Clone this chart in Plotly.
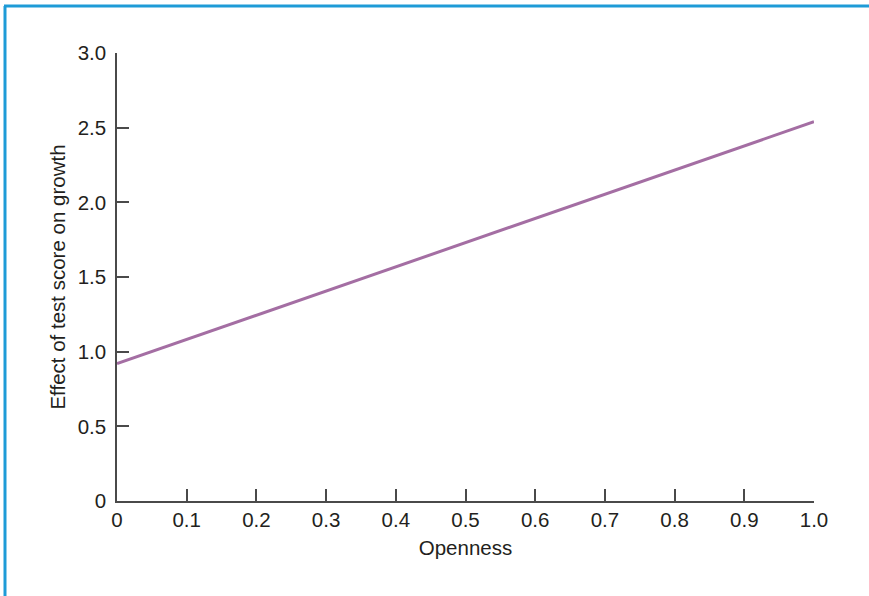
import plotly.graph_objects as go

openness = [0.0, 1.0]
effect = [0.92, 2.54]

x_tickvals = [0, 0.1, 0.2, 0.3, 0.4, 0.5, 0.6, 0.7, 0.8, 0.9, 1.0]
x_ticktext = ["0", "0.1", "0.2", "0.3", "0.4", "0.5", "0.6", "0.7", "0.8", "0.9", "1.0"]
y_tickvals = [0, 0.5, 1.0, 1.5, 2.0, 2.5, 3.0]
y_ticktext = ["0", "0.5", "1.0", "1.5", "2.0", "2.5", "3.0"]

W, H = 869, 596
L, R, T, B = 117, 55, 53, 95
pw, ph = W - L - R, H - T - B

fig = go.Figure()
fig.add_trace(go.Scatter(x=openness, y=effect, mode="lines",
                         line=dict(color="#a46ea3", width=3), showlegend=False,
                         cliponaxis=False))

FONT = "Liberation Sans, Arial, sans-serif"
axis_common = dict(showline=True, linecolor="#4a4a4a", linewidth=1.5,
                   ticks="inside", ticklen=12, tickwidth=1.5, tickcolor="#4a4a4a",
                   showgrid=False, zeroline=False,
                   tickfont=dict(family=FONT, size=20.5, color="#231f20"),
                   title_font=dict(family=FONT, size=20.5, color="#231f20"))

fig.update_xaxes(range=[0, 1], tickmode="array", tickvals=x_tickvals, ticktext=x_ticktext,
                 title_text="Openness", title_standoff=10, **axis_common)
fig.update_yaxes(range=[0, 3], tickmode="array", tickvals=y_tickvals, ticktext=y_ticktext,
                 ticklabelstandoff=5,
                 title_text="Effect of test score on growth", title_standoff=6, **axis_common)

# blue frame (left and top) in paper coordinates
def px_x(p):
    return (p - L) / pw

def px_y(p):
    return (H - B - p) / ph

blue = "#1e9bd7"
fig.add_shape(type="line", xref="paper", yref="paper",
              x0=px_x(5), x1=px_x(5), y0=px_y(6), y1=px_y(H + 5),
              line=dict(color=blue, width=3))
fig.add_shape(type="line", xref="paper", yref="paper",
              x0=px_x(4), x1=px_x(W + 5), y0=px_y(6), y1=px_y(6),
              line=dict(color=blue, width=3))

fig.update_layout(width=W, height=H, margin=dict(l=L, r=R, t=T, b=B),
                  paper_bgcolor="white", plot_bgcolor="white")

fig.write_html("out.html", config={"displayModeBar": False},
               post_script="document.body.style.margin='0';")
